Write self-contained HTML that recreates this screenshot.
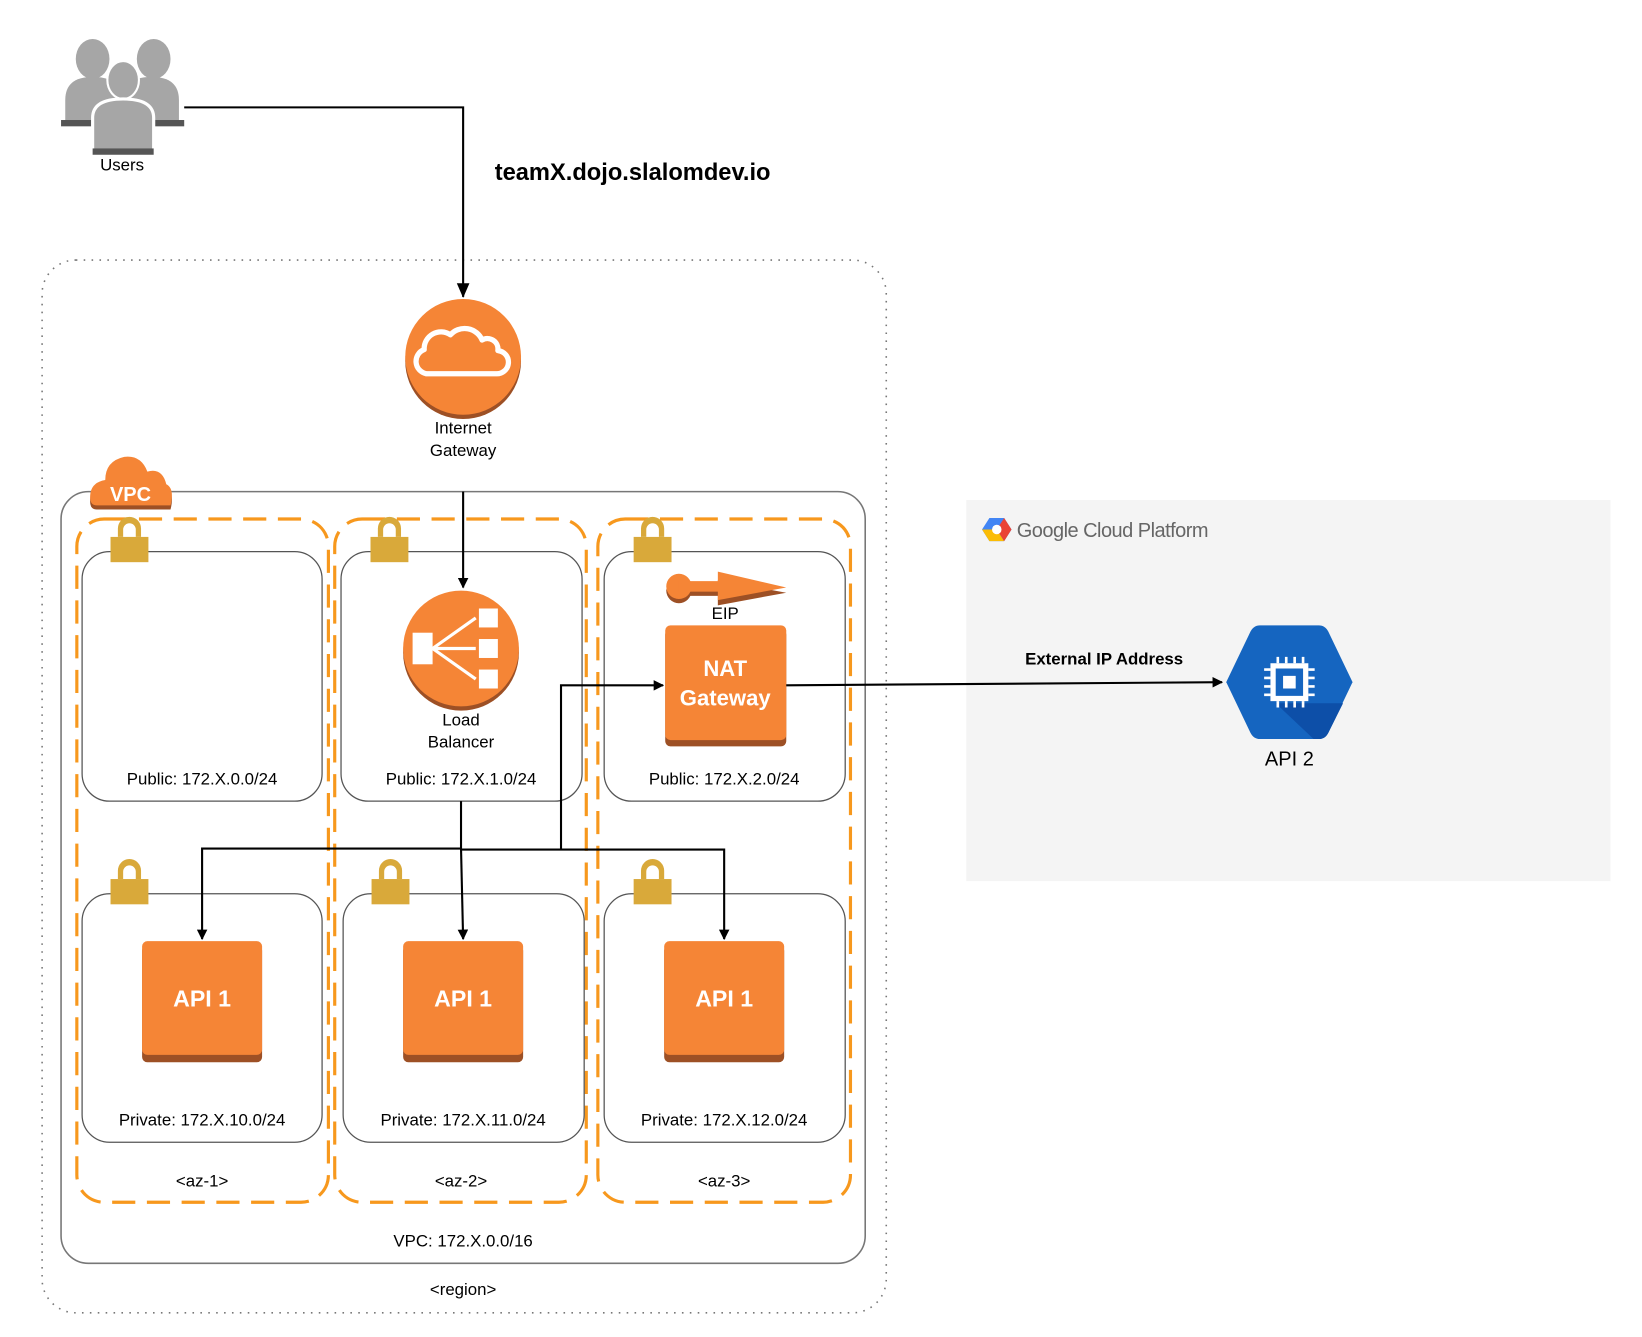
<!DOCTYPE html>
<html><head><meta charset="utf-8"><style>
html,body{margin:0;padding:0;background:#fff;}
svg{display:block;}
text{font-family:"Liberation Sans",sans-serif;}
</style></head><body>
<svg width="1642" height="1337" viewBox="0 0 1560 1270" preserveAspectRatio="none" xmlns="http://www.w3.org/2000/svg">
<defs>
<marker id="ar" markerWidth="10" markerHeight="10" refX="9" refY="5" orient="auto" markerUnits="userSpaceOnUse"><path d="M0,0 L10,5 L0,10 z" fill="#000"/></marker>
<marker id="ar2" markerWidth="14" markerHeight="14" refX="13" refY="7" orient="auto" markerUnits="userSpaceOnUse"><path d="M0,1 L14,7 L0,13 z" fill="#000"/></marker>
<g id="lock"><path d="M-11,10 V2 a11,11 0 0 1 22,0 V10 h-5 V3 a6,6 0 0 0 -12,0 V10z" fill="#d9a93a"/><rect x="-18" y="10" width="36" height="24" fill="#d9a93a"/></g>
</defs>

<!-- Users -->
<g fill="#a6a6a6">
<ellipse cx="88" cy="56" rx="16" ry="19"/><ellipse cx="146" cy="56" rx="16" ry="19"/>
<path d="M62,118 V95 q0,-22 26,-22 q18,0 26,10 l-10,30 z"/>
<path d="M170,118 V95 q0,-22 -26,-22 q-18,0 -26,10 l10,30 z"/>
<rect x="58" y="114" width="117" height="6" fill="#555"/>
<ellipse cx="117" cy="76" rx="15" ry="18" stroke="#fff" stroke-width="2"/>
<path d="M88,146 V112 q0,-18 29,-18 q29,0 29,18 V146 z" stroke="#fff" stroke-width="3"/>
<rect x="88" y="141" width="58" height="6" fill="#555"/>
</g>
<text x="116" y="162" font-size="16" text-anchor="middle">Users</text>

<!-- Region -->
<rect x="40" y="247" width="802" height="1000" rx="32" fill="none" stroke="#777" stroke-width="1.5" stroke-dasharray="1.5,6"/>
<text x="440" y="1230" font-size="16" text-anchor="middle">&lt;region&gt;</text>

<!-- Users line -->
<polyline points="175,102 440,102 440,282" fill="none" stroke="#000" stroke-width="2" marker-end="url(#ar2)"/>
<text x="470" y="171" font-size="22.5" font-weight="bold">teamX.dojo.slalomdev.io</text>

<!-- IGW -->
<circle cx="440" cy="343" r="55" fill="#9d5025"/>
<circle cx="440" cy="339" r="55" fill="#f58536"/>
<path d="M405,355 a12,12 0 0 1 -2,-23 a16,16 0 0 1 25,-14 a18,18 0 0 1 30,5 a10,10 0 0 1 15,10 a11,11 0 0 1 -2,22 z" fill="none" stroke="#fff" stroke-width="5" stroke-linejoin="round"/>
<text x="440" y="412" font-size="16" text-anchor="middle">Internet</text>
<text x="440" y="433" font-size="16" text-anchor="middle">Gateway</text>

<!-- VPC -->
<rect x="58" y="467" width="764" height="733" rx="26" fill="none" stroke="#777" stroke-width="1.5"/>
<text x="440" y="1184" font-size="16" text-anchor="middle">VPC: 172.X.0.0/16</text>
<g>
<path d="M92,484 q-8,0 -6,-12 q2,-10 14,-12 q0,-18 18,-22 q16,-2 22,14 q14,-4 18,12 q8,4 4,20 z" fill="#9d5025"/>
<path d="M92,480 q-8,0 -6,-12 q2,-10 14,-12 q0,-18 18,-22 q16,-2 22,14 q14,-4 18,12 q8,4 4,20 z" fill="#f58536"/>
<text x="124" y="476" font-size="19" font-weight="bold" fill="#fff" text-anchor="middle">VPC</text>
</g>

<!-- AZ dashed -->
<g fill="none" stroke="#f7981d" stroke-width="3" stroke-dasharray="22,11">
<rect x="73" y="493" width="239" height="649" rx="26"/>
<rect x="318" y="493" width="239" height="649" rx="26"/>
<rect x="568" y="493" width="240" height="649" rx="26"/>
</g>
<g font-size="16" text-anchor="middle">
<text x="192" y="1127">&lt;az-1&gt;</text><text x="438" y="1127">&lt;az-2&gt;</text><text x="688" y="1127">&lt;az-3&gt;</text>
</g>

<!-- Subnets -->
<g fill="#fff" stroke="#555" stroke-width="1.2">
<rect x="78" y="524" width="228" height="237" rx="26"/>
<rect x="324" y="524" width="229" height="237" rx="26"/>
<rect x="574" y="524" width="229" height="237" rx="26"/>
<rect x="78" y="849" width="228" height="236" rx="26"/>
<rect x="326" y="849" width="229" height="236" rx="26"/>
<rect x="574" y="849" width="229" height="236" rx="26"/>
</g>
<g font-size="16" text-anchor="middle">
<text x="192" y="745">Public: 172.X.0.0/24</text>
<text x="438" y="745">Public: 172.X.1.0/24</text>
<text x="688" y="745">Public: 172.X.2.0/24</text>
<text x="192" y="1069">Private: 172.X.10.0/24</text>
<text x="440" y="1069">Private: 172.X.11.0/24</text>
<text x="688" y="1069">Private: 172.X.12.0/24</text>
</g>
<use href="#lock" x="123" y="500"/><use href="#lock" x="370" y="500"/><use href="#lock" x="620" y="500"/>
<use href="#lock" x="123" y="825"/><use href="#lock" x="371" y="825"/><use href="#lock" x="620" y="825"/>

<!-- LB -->
<circle cx="438" cy="620" r="55" fill="#9d5025"/>
<circle cx="438" cy="616" r="55" fill="#f58536"/>
<g fill="#fff"><rect x="392" y="601" width="19" height="30"/><rect x="455" y="578" width="18" height="18"/><rect x="455" y="607" width="18" height="18"/><rect x="455" y="636" width="18" height="18"/></g>
<g stroke="#fff" stroke-width="3" fill="none"><path d="M411,616 L452,587 M411,616 L452,616 M411,616 L452,645"/></g>
<text x="438" y="689" font-size="16" text-anchor="middle">Load</text>
<text x="438" y="710" font-size="16" text-anchor="middle">Balancer</text>

<!-- EIP -->
<g>
<circle cx="645" cy="561" r="12" fill="#9d5025"/><rect x="645" y="556" width="40" height="10" fill="#9d5025"/><path d="M682,551 L747,563 L682,575 z" fill="#9d5025"/>
<circle cx="645" cy="557" r="12" fill="#f58536"/><rect x="645" y="552" width="40" height="10" fill="#f58536"/><path d="M682,543 L747,558 L682,570 z" fill="#f58536"/>
</g>
<text x="689" y="588" font-size="16" text-anchor="middle">EIP</text>

<!-- NAT -->
<rect x="632" y="598" width="115" height="111" rx="5" fill="#9d5025"/>
<rect x="632" y="594" width="115" height="109" rx="5" fill="#f58536"/>
<text x="689" y="642" font-size="21" font-weight="bold" fill="#fff" text-anchor="middle">NAT</text>
<text x="689" y="670" font-size="21" font-weight="bold" fill="#fff" text-anchor="middle">Gateway</text>

<!-- API1 boxes -->
<g>
<rect x="135" y="898" width="114" height="111" rx="5" fill="#9d5025"/><rect x="135" y="894" width="114" height="108" rx="5" fill="#f58536"/>
<rect x="383" y="898" width="114" height="111" rx="5" fill="#9d5025"/><rect x="383" y="894" width="114" height="108" rx="5" fill="#f58536"/>
<rect x="631" y="898" width="114" height="111" rx="5" fill="#9d5025"/><rect x="631" y="894" width="114" height="108" rx="5" fill="#f58536"/>
</g>
<g font-size="22" font-weight="bold" fill="#fff" text-anchor="middle">
<text x="192" y="956">API 1</text><text x="440" y="956">API 1</text><text x="688" y="956">API 1</text>
</g>

<!-- connectors -->
<g fill="none" stroke="#000" stroke-width="2">
<line x1="440" y1="467" x2="440" y2="558" marker-end="url(#ar)"/>
<polyline points="438,761 438,806"/>
<polyline points="438,806 192,806 192,892" marker-end="url(#ar)"/>
<polyline points="438,806 440,892" marker-end="url(#ar)"/>
<polyline points="438,807 688,807 688,892" marker-end="url(#ar)"/>
<polyline points="533,807 533,651 630,651" marker-end="url(#ar)"/>
</g>

<!-- GCP -->
<rect x="918" y="475" width="612" height="362" fill="#f4f4f4"/>
<g>
<path d="M940,492 L954,492 L961,503 L954,514 L940,514 L933,503 z" fill="#4285f4"/>
<path d="M933,503 L940,514 L954,514 L947,503 z" fill="#fbbc05"/>
<path d="M954,492 L961,503 L954,514 L947,503 z" fill="#ea4335"/>
<circle cx="947" cy="503" r="4.5" fill="#fff"/>
</g>
<text x="966" y="510" font-size="19" fill="#666" letter-spacing="-0.5">Google Cloud Platform</text>
<text x="1049" y="631" font-size="16" font-weight="bold" text-anchor="middle">External IP Address</text>
<path d="M747,651 L1161,648" stroke="#000" stroke-width="2" marker-end="url(#ar)"/>
<path d="M1197,594 L1253,594 Q1259,594 1262,600 L1285,648 L1262,696 Q1259,702 1253,702 L1197,702 Q1191,702 1188,696 L1165,648 L1188,600 Q1191,594 1197,594 z" fill="#1565c0"/>
<path d="M1240,668 L1276,668 L1262,696 Q1259,702 1253,702 L1248,702 L1212,668 z" fill="#0d4fa8"/>
<g fill="#fff"><rect x="1207" y="630" width="36" height="36"/></g>
<rect x="1212" y="635" width="26" height="26" fill="#1565c0"/>
<rect x="1219" y="642" width="12" height="12" fill="#fff"/>
<g stroke="#fff" stroke-width="2.5">
<path d="M1214,624 v6 M1222,624 v6 M1230,624 v6 M1238,624 v6 M1214,666 v6 M1222,666 v6 M1230,666 v6 M1238,666 v6 M1201,636 h6 M1201,644 h6 M1201,652 h6 M1201,660 h6 M1243,636 h6 M1243,644 h6 M1243,652 h6 M1243,660 h6"/>
</g>
<text x="1225" y="727" font-size="19" text-anchor="middle">API 2</text>
</svg>
</body></html>
